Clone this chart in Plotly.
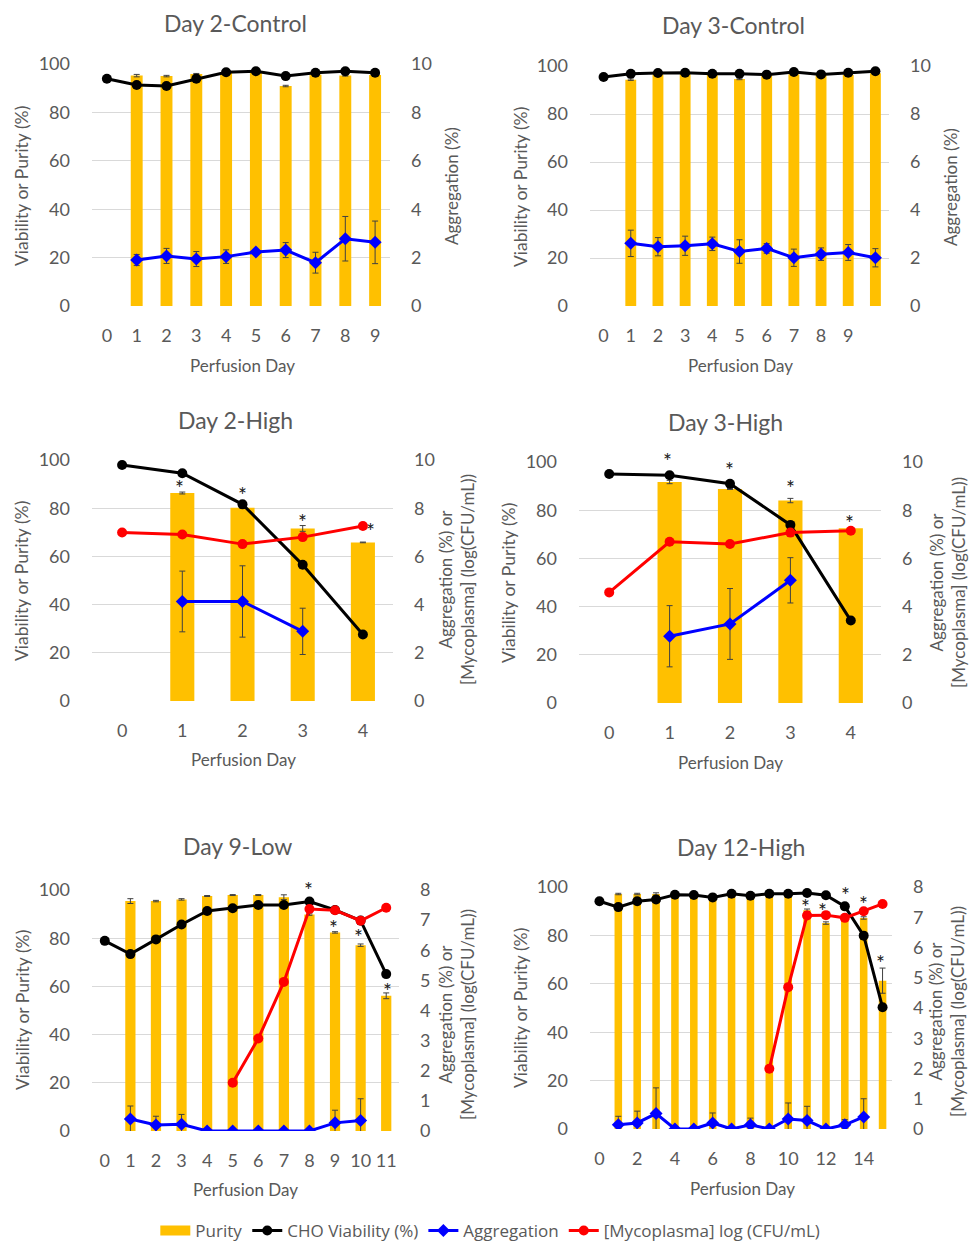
import plotly.graph_objects as go

W, H = 969, 1244

# ---------------- data ----------------
# Day 2-Control
d2c_days = list(range(0, 10))
d2c_viability = [93.9, 91.3, 90.9, 93.9, 96.6, 97.0, 95.0, 96.4, 97.0, 96.4]
d2c_purity_days = list(range(1, 10))
d2c_purity = [95.2, 95.0, 95.9, 96.5, 96.6, 90.9, 95.6, 95.2, 95.5]
d2c_purity_err = [0.5, 0.3, 0.2, 0.2, 0.2, 0.3, 0.2, 0.2, 0.2]
d2c_agg_days = list(range(1, 10))
d2c_agg = [1.90, 2.07, 1.94, 2.04, 2.23, 2.31, 1.79, 2.78, 2.63]
d2c_agg_err = [0.23, 0.31, 0.31, 0.28, 0.0, 0.31, 0.43, 0.92, 0.88]

# Day 3-Control
d3c_days = list(range(0, 11))
d3c_viability = [95.4, 96.8, 97.1, 97.2, 96.8, 96.8, 96.4, 97.5, 96.5, 97.2, 97.8]
d3c_purity_days = list(range(1, 11))
d3c_purity = [94.3, 96.5, 96.6, 96.2, 94.6, 96.0, 96.6, 96.2, 96.3, 97.0]
d3c_purity_err = [0.3, 0.2, 0.2, 0.2, 0.3, 0.2, 0.2, 0.2, 0.2, 0.2]
d3c_agg_days = list(range(1, 11))
d3c_agg = [2.61, 2.47, 2.51, 2.59, 2.27, 2.40, 2.01, 2.16, 2.23, 2.01]
d3c_agg_err = [0.55, 0.38, 0.40, 0.28, 0.49, 0.20, 0.36, 0.26, 0.33, 0.38]

# Day 2-High
d2h_days = list(range(0, 5))
d2h_viability = [97.9, 94.5, 81.6, 56.5, 27.6]
d2h_purity_days = [1, 2, 3, 4]
d2h_purity = [86.3, 80.2, 71.6, 65.8]
d2h_purity_err = [0.4, 0.2, 1.2, 0.15]
d2h_myco_days = list(range(0, 5))
d2h_myco = [6.99, 6.91, 6.51, 6.80, 7.26]
d2h_agg_days = [1, 2, 3]
d2h_agg = [4.13, 4.13, 2.89]
d2h_agg_err = [1.26, 1.48, 0.96]
d2h_sig_days = [1, 2, 3, 4]

# Day 3-High
d3h_days = list(range(0, 5))
d3h_viability = [95.0, 94.5, 91.0, 73.9, 34.2]
d3h_purity_days = [1, 2, 3, 4]
d3h_purity = [91.7, 88.8, 84.0, 72.5]
d3h_purity_err = [0.7, 0.2, 0.9, 0.1]
d3h_myco_days = list(range(0, 5))
d3h_myco = [4.59, 6.69, 6.60, 7.07, 7.15]
d3h_agg_days = [1, 2, 3]
d3h_agg = [2.77, 3.28, 5.09]
d3h_agg_err = [1.27, 1.47, 0.94]
d3h_sig_days = [1, 2, 3, 4]

# Day 9-Low
d9l_days = list(range(0, 12))
d9l_viability = [78.9, 73.4, 79.5, 85.7, 91.3, 92.4, 93.8, 93.8, 95.2, 91.7, 87.3, 65.1]
d9l_purity_days = list(range(1, 12))
d9l_purity = [95.4, 95.4, 96.1, 97.5, 97.9, 97.9, 97.0, 89.8, 82.4, 77.1, 56.1]
d9l_purity_err = [1.0, 0.3, 0.3, 0.2, 0.2, 0.2, 1.0, 0.3, 0.3, 0.5, 1.2]
d9l_myco_days = list(range(5, 12))
d9l_myco = [1.60, 3.07, 4.95, 7.37, 7.33, 6.98, 7.41]
d9l_agg_days = list(range(1, 11))
d9l_agg = [0.40, 0.20, 0.22, 0.0, 0.0, 0.0, 0.0, 0.0, 0.27, 0.35]
d9l_agg_err = [0.43, 0.29, 0.33, 0.0, 0.0, 0.0, 0.0, 0.0, 0.42, 0.72]
d9l_sig_days = [8, 9, 10, 11]

# Day 12-High
d12h_days = list(range(0, 16))
d12h_viability = [94.1, 91.7, 94.1, 94.8, 96.8, 96.7, 95.7, 97.2, 96.4, 97.2,
                  97.2, 97.5, 96.6, 92.0, 79.9, 50.3]
d12h_purity_days = list(range(1, 16))
d12h_purity = [97.1, 97.1, 97.1, 96.8, 96.6, 96.3, 96.8, 96.6, 96.8, 96.8,
               90.4, 85.1, 88.0, 87.2, 61.3]
d12h_purity_err = [0.3, 0.3, 0.5, 0.2, 0.2, 0.2, 0.2, 0.2, 0.2, 0.2,
                   0.5, 0.5, 0.3, 0.5, 5.2]
d12h_myco_days = list(range(9, 16))
d12h_myco = [1.99, 4.69, 7.06, 7.07, 6.98, 7.20, 7.44]
d12h_agg_days = list(range(1, 15))
d12h_agg = [0.14, 0.20, 0.51, 0.0, 0.0, 0.20, 0.0, 0.14, 0.0, 0.33, 0.28, 0.0, 0.14, 0.40]
d12h_agg_err = [0.28, 0.39, 0.85, 0.0, 0.0, 0.33, 0.0, 0.22, 0.0, 0.53, 0.47, 0.0, 0.17, 0.60]
d12h_sig_days = [11, 12, 13, 14, 15]

# ---------------- styling ----------------
FONT = "Lato"
TXT = "#595959"
GOLD = "#FFC000"
GRID = "#D9D9D9"
ERR = "#404040"

panels = [
    dict(title="Day 2-Control", days=d2c_days, via=d2c_viability,
         pd=d2c_purity_days, pur=d2c_purity, perr=d2c_purity_err,
         ad=d2c_agg_days, agg=d2c_agg, aerr=d2c_agg_err, md=None, myco=None,
         n=10, ticks=list(range(0, 10)), rmax=10, rdtick=2,
         rtitle="Aggregation (%)", sig=[], box=(92, 390, 64, 306),
         title_xy=(235, 23), xt_xy=(242, 365), lt_xy=(22, 186), rt_xy=(452, 186)),
    dict(title="Day 3-Control", days=d3c_days, via=d3c_viability,
         pd=d3c_purity_days, pur=d3c_purity, perr=d3c_purity_err,
         ad=d3c_agg_days, agg=d3c_agg, aerr=d3c_agg_err, md=None, myco=None,
         n=11, ticks=list(range(0, 10)), rmax=10, rdtick=2,
         rtitle="Aggregation (%)", sig=[], box=(590, 889, 66, 306),
         title_xy=(733, 25), xt_xy=(740, 365), lt_xy=(520, 187), rt_xy=(950, 187)),
    dict(title="Day 2-High", days=d2h_days, via=d2h_viability,
         pd=d2h_purity_days, pur=d2h_purity, perr=d2h_purity_err,
         ad=d2h_agg_days, agg=d2h_agg, aerr=d2h_agg_err,
         md=d2h_myco_days, myco=d2h_myco,
         n=5, ticks=list(range(0, 5)), rmax=10, rdtick=2,
         rtitle="Aggregation (%) or<br>[Mycoplasma] (log(CFU/mL))",
         sig=d2h_sig_days, box=(92, 393, 460, 701),
         title_xy=(235, 420), xt_xy=(243, 759), lt_xy=(22, 581), rt_xy=(456, 580)),
    dict(title="Day 3-High", days=d3h_days, via=d3h_viability,
         pd=d3h_purity_days, pur=d3h_purity, perr=d3h_purity_err,
         ad=d3h_agg_days, agg=d3h_agg, aerr=d3h_agg_err,
         md=d3h_myco_days, myco=d3h_myco,
         n=5, ticks=list(range(0, 5)), rmax=10, rdtick=2,
         rtitle="Aggregation (%) or<br>[Mycoplasma] (log(CFU/mL))",
         sig=d3h_sig_days, box=(579, 881, 462, 703),
         title_xy=(725, 422), xt_xy=(730, 762), lt_xy=(508, 583), rt_xy=(947, 583)),
    dict(title="Day 9-Low", days=d9l_days, via=d9l_viability,
         pd=d9l_purity_days, pur=d9l_purity, perr=d9l_purity_err,
         ad=d9l_agg_days, agg=d9l_agg, aerr=d9l_agg_err,
         md=d9l_myco_days, myco=d9l_myco,
         n=12, ticks=list(range(0, 12)), rmax=8, rdtick=1,
         rtitle="Aggregation (%) or<br>[Mycoplasma] (log(CFU/mL))",
         sig=d9l_sig_days, box=(92, 399, 890, 1131),
         title_xy=(237, 846), xt_xy=(245, 1189), lt_xy=(22, 1010), rt_xy=(456, 1015)),
    dict(title="Day 12-High", days=d12h_days, via=d12h_viability,
         pd=d12h_purity_days, pur=d12h_purity, perr=d12h_purity_err,
         ad=d12h_agg_days, agg=d12h_agg, aerr=d12h_agg_err,
         md=d12h_myco_days, myco=d12h_myco,
         n=16, ticks=list(range(0, 15, 2)), rmax=8, rdtick=1,
         rtitle="Aggregation (%) or<br>[Mycoplasma] (log(CFU/mL))",
         sig=d12h_sig_days, box=(590, 892, 887, 1129),
         title_xy=(741, 847), xt_xy=(742, 1188), lt_xy=(520, 1008), rt_xy=(946, 1012)),
]

# asterisk placement: (pixels above the bar's error cap, horizontal nudge in px)
sig_offsets = [
    [],
    [],
    [(10, -3), (18, 0), (9, 0), (17, 8)],
    [(25, -2), (24, -1), (16, 0), (11, -1)],
    [(29, -1), (9, -2), (12, -2), (7, 1)],
    [(8, -2), (16, -3), (26, 1), (18, 0), (11, -2)],
]


def px(x):
    return x / W


def py(y):
    return 1 - y / H


def name(prefix, i):
    return prefix if i == 1 else f"{prefix}{i}"


fig = go.Figure()
annotations = []
layout = {}
legend_done = set()


def show(key):
    if key in legend_done:
        return False
    legend_done.add(key)
    return True


for k, p in enumerate(panels, start=1):
    xa = name("x", k)
    yl = name("y", 2 * k - 1)
    yr = name("y", 2 * k)
    x0, x1, y0, y1 = p["box"]

    # purity bars
    fig.add_trace(go.Bar(
        x=p["pd"], y=p["pur"], width=0.4, marker=dict(color=GOLD, line=dict(width=0)),
        error_y=dict(type="data", array=p["perr"], color=ERR, thickness=1, width=3),
        name="Purity", showlegend=False, xaxis=xa, yaxis=yl,
    ))
    # CHO viability
    fig.add_trace(go.Scatter(
        x=p["days"], y=p["via"], mode="lines+markers",
        line=dict(color="black", width=3), marker=dict(color="black", size=10),
        name="CHO Viability (%)", showlegend=show("via"), legendrank=2,
        xaxis=xa, yaxis=yl,
    ))
    # aggregation
    fig.add_trace(go.Scatter(
        x=p["ad"], y=p["agg"], mode="lines+markers",
        line=dict(color="#0000FF", width=3),
        marker=dict(color="#0000FF", size=10, symbol="diamond"),
        error_y=dict(type="data", array=p["aerr"], color=ERR, thickness=1, width=3),
        name="Aggregation", showlegend=show("agg"), legendrank=3,
        xaxis=xa, yaxis=yr,
    ))
    # mycoplasma
    if p["myco"] is not None:
        fig.add_trace(go.Scatter(
            x=p["md"], y=p["myco"], mode="lines+markers",
            line=dict(color="#FF0000", width=3), marker=dict(color="#FF0000", size=10),
            name="[Mycoplasma] log (CFU/mL)", showlegend=show("myco"), legendrank=4,
            xaxis=xa, yaxis=yr,
        ))

    tickfont = dict(family=FONT, size=18, color=TXT)
    layout[name("xaxis", k)] = dict(
        domain=[px(x0), px(x1)], anchor=yl, range=[-0.5, p["n"] - 0.5],
        tickmode="array", tickvals=p["ticks"], ticktext=[str(t) for t in p["ticks"]],
        showgrid=False, zeroline=False, showline=False, ticks="",
        tickfont=tickfont, ticklabelstandoff=17, automargin=False,
    )
    layout[name("yaxis", 2 * k - 1)] = dict(
        domain=[py(y1), py(y0)], anchor=xa, range=[0, 100], dtick=20, tick0=0,
        showgrid=True, gridcolor=GRID, gridwidth=1, zeroline=False, showline=False,
        ticks="", tickfont=tickfont, ticklabelstandoff=21, automargin=False,
    )
    layout[name("yaxis", 2 * k)] = dict(
        overlaying=yl, side="right", anchor=xa, range=[0, p["rmax"]],
        dtick=p["rdtick"], tick0=0, showgrid=False, zeroline=False, showline=False,
        ticks="", tickfont=tickfont, ticklabelstandoff=20, automargin=False,
    )

    # titles
    tx, ty = p["title_xy"]
    annotations.append(dict(text=p["title"], x=px(tx), y=py(ty), xref="paper", yref="paper",
                            showarrow=False, xanchor="center", yanchor="middle",
                            font=dict(family=FONT, size=23, color=TXT)))
    tx, ty = p["xt_xy"]
    annotations.append(dict(text="Perfusion Day", x=px(tx), y=py(ty), xref="paper", yref="paper",
                            showarrow=False, xanchor="center", yanchor="middle",
                            font=dict(family=FONT, size=17, color=TXT)))
    tx, ty = p["lt_xy"]
    annotations.append(dict(text="Viability or Purity (%)", x=px(tx), y=py(ty),
                            xref="paper", yref="paper", textangle=-90,
                            showarrow=False, xanchor="center", yanchor="middle",
                            font=dict(family=FONT, size=17.5, color=TXT)))
    tx, ty = p["rt_xy"]
    annotations.append(dict(text=p["rtitle"], x=px(tx), y=py(ty),
                            xref="paper", yref="paper", textangle=-90,
                            showarrow=False, xanchor="center", yanchor="middle",
                            font=dict(family=FONT, size=17, color=TXT)))

    # significance asterisks above the purity bars
    for day, (up, dx) in zip(p["sig"], sig_offsets[k - 1]):
        i = p["pd"].index(day)
        top = p["pur"][i] + p["perr"][i]
        annotations.append(dict(text="*", x=day, y=top, xref=xa, yref=yl,
                                showarrow=False, xanchor="center", yanchor="middle",
                                xshift=dx, yshift=up - 5,
                                font=dict(family=FONT, size=21, color="#1a1a1a")))

# legend entry for purity drawn as a wide swatch
fig.add_trace(go.Scatter(
    x=[None], y=[None], mode="lines", line=dict(color=GOLD, width=10),
    name="Purity", showlegend=True, legendrank=1, xaxis="x", yaxis="y",
))

fig.update_layout(
    width=W, height=H, margin=dict(l=0, r=0, t=0, b=0, autoexpand=False),
    paper_bgcolor="white", plot_bgcolor="white",
    font=dict(family=FONT, color=TXT),
    annotations=annotations,
    legend=dict(orientation="h", x=0.506, xanchor="center", y=py(1231), yanchor="middle",
                font=dict(family="Open Sans", size=17, color=TXT), bgcolor="rgba(0,0,0,0)",
                itemwidth=30, traceorder="normal"),
    **layout,
)

fig.write_html("out.html")
